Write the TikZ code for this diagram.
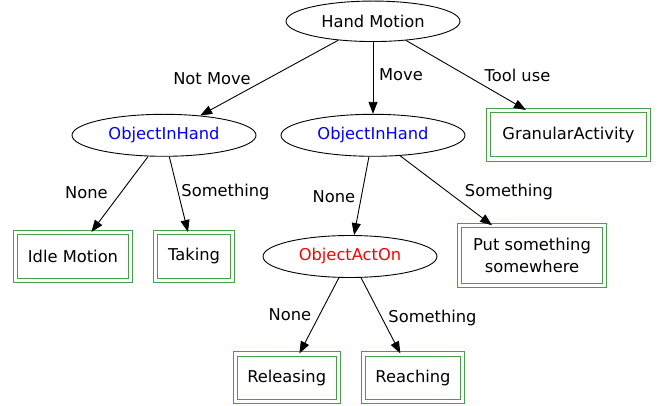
\documentclass[tikz,border=0pt]{standalone}
\usepackage{fontspec}
\setmainfont{DejaVu Sans}
\usetikzlibrary{arrows.meta,shapes.geometric}

\definecolor{boxgreen}{RGB}{70,160,70}
\definecolor{decblue}{RGB}{0,0,255}
\definecolor{decred}{RGB}{255,0,0}

\tikzset{
  every node/.style={font=\fontsize{16.3}{21.5}\selectfont},
  decision/.style={ellipse, draw=black, line width=0.9pt, inner sep=0pt},
  leafbox/.style={rectangle, draw=boxgreen, line width=1pt,
                  double=white, double distance=3.3pt, inner sep=0pt, align=center},
  arr/.style={draw=black, line width=0.9pt, -{Triangle[length=12pt,width=9pt]}},
  lbl/.style={inner sep=0pt}
}

\begin{document}
\begin{tikzpicture}[x=1pt,y=-1pt]
\useasboundingbox (0,0) rectangle (662,406);

% decision nodes
\node[decision, minimum width=174pt, minimum height=40.5pt] (hm) at (373,21.3) {Hand Motion};
\node[decision, minimum width=184pt, minimum height=42pt, text=decblue] (oihL) at (164,135.3) {ObjectInHand};
\node[decision, minimum width=184pt, minimum height=42pt, text=decblue] (oihM) at (373,135.3) {ObjectInHand};
\node[decision, minimum width=174pt, minimum height=42pt, text=decred] (oao) at (350,256.5) {ObjectActOn};

% activity leaves
\node[leafbox, minimum width=160pt, minimum height=48.5pt] (gran) at (568.5,134.7) {GranularActivity};
\node[leafbox, minimum width=115pt, minimum height=48pt] (idle) at (73,256.5) {Idle Motion};
\node[leafbox, minimum width=77pt, minimum height=48pt] (take) at (194,256.5) {Taking};
\node[leafbox, minimum width=144.4pt, minimum height=59.4pt] (put) at (532,255.5) {Put something\\somewhere};
\node[leafbox, minimum width=103pt, minimum height=47.7pt] (rel) at (286.7,377.8) {Releasing};
\node[leafbox, minimum width=98.4pt, minimum height=47.7pt] (reach) at (413,377.8) {Reaching};

% edges
\draw[arr] (hm) -- (oihL);
\draw[arr] (hm) -- (oihM);
\draw[arr] (hm) -- (gran);
\draw[arr] (oihL) -- (idle);
\draw[arr] (oihL) -- (take);
\draw[arr] (oihM) -- (oao);
\draw[arr] (oihM) -- (put);
\draw[arr] (oao) -- (rel);
\draw[arr] (oao) -- (reach);

% edge labels
\node[lbl] (lNotMove) at (212,79) {Not Move};
\node[lbl] (lMove) at (401,75) {Move};
\node[lbl] (lTool) at (517.5,75) {Tool use};
\node[lbl] (lNoneL) at (86.5,193) {None};
\node[lbl] (lSomeL) at (225.5,192) {Something};
\node[lbl] (lNoneM) at (334,197) {None};
\node[lbl] (lSomeM) at (509,192) {Something};
\node[lbl] (lNoneB) at (290,315) {None};
\node[lbl] (lSomeB) at (432.5,318) {Something};
\end{tikzpicture}
\end{document}
